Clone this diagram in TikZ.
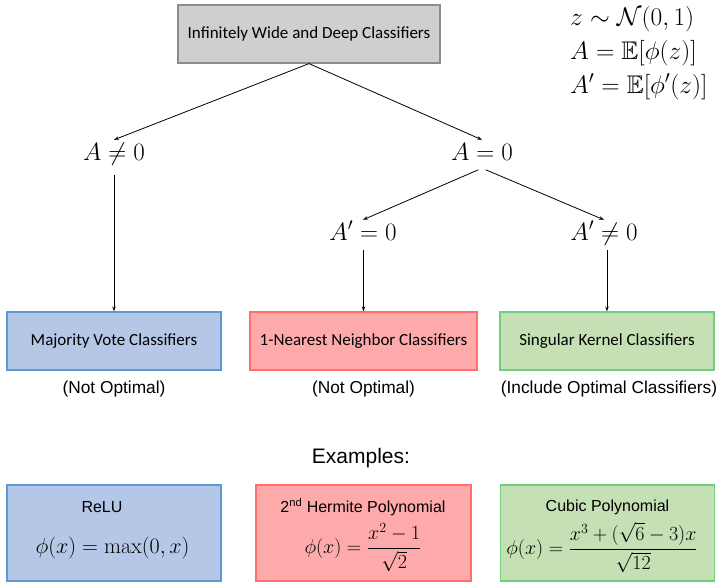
\RequirePackage{fix-cm}
\documentclass[tikz,border=0pt]{standalone}
\usepackage{amsmath,amssymb}
\usepackage{fontspec}
\newfontfamily\calibri{Carlito}
\newfontfamily\arial{Liberation Sans}
\usetikzlibrary{arrows.meta}
\definecolor{topfill}{HTML}{D0CECE}
\definecolor{topdraw}{HTML}{8C8C8C}
\definecolor{bfill}{HTML}{B4C7E7}
\definecolor{bdraw}{HTML}{5B9BD5}
\definecolor{rfill}{HTML}{FFAAAA}
\definecolor{rdraw}{HTML}{FF6F6F}
\definecolor{gfill}{HTML}{C5E0B4}
\definecolor{gdraw}{HTML}{6FCF7F}
\begin{document}
\begin{tikzpicture}[x=1pt,y=-1pt,
  cbox/.style={draw, line width=1.2pt, minimum height=58pt, inner sep=0pt,
    font=\calibri\fontsize{17}{20}\selectfont},
  exbox/.style={draw, line width=1.2pt, minimum height=96pt, minimum width=214pt, inner sep=0pt},
  mlab/.style={font=\fontsize{25}{30}\selectfont, text height=18pt, text depth=6pt, inner sep=2pt, anchor=base},
  rlab/.style={font=\fontsize{25.5}{30}\selectfont, anchor=base west, inner sep=0pt},
  arr/.style={-{Stealth[length=5pt,width=3.5pt]}, line width=0.8pt},
  note/.style={font=\arial\fontsize{17.3}{20}\selectfont, anchor=base},
  extitle/.style={font=\arial\fontsize{16}{19}\selectfont, anchor=base, inner sep=0pt},
  exmath/.style={font=\fontsize{20}{24}\selectfont, anchor=base, inner sep=0pt}
]
\useasboundingbox (0,0) rectangle (721,587);

\node[cbox, fill=topfill, draw=topdraw, minimum width=262pt] (top) at (309,34) {Infinitely Wide and Deep Classifiers};

\node[rlab] (f1) at (570,25) {$z\sim\mathcal{N}(0,1)$};
\node[rlab] (f2) at (570,59) {$A=\mathbb{E}[\phi(z)]$};
\node[rlab] (f3) at (570,93) {$A'=\mathbb{E}[\phi'(z)]$};

\node[mlab] (nA) at (114,160) {$A\neq0$};
\node[mlab] (zA) at (482,160) {$A=0$};
\node[mlab] (zAp) at (363,240) {$A'=0$};
\node[mlab] (nAp) at (604,240) {$A'\neq0$};

\node[cbox, fill=bfill, draw=bdraw, minimum width=214pt] (b1) at (114,341) {Majority Vote Classifiers};
\node[cbox, fill=rfill, draw=rdraw, minimum width=227pt] (b2) at (363.5,341) {1-Nearest Neighbor Classifiers};
\node[cbox, fill=gfill, draw=gdraw, minimum width=214pt] (b3) at (607,341) {Singular Kernel Classifiers};

\node[note] (l1) at (114,393) {(Not Optimal)};
\node[note] (l2) at (363.5,393) {(Not Optimal)};
\node[note] (l3) at (609,393) {(Include Optimal Classifiers)};

\draw[arr] (top.south) -- (nA.north);
\draw[arr] (top.south) -- (zA.north);
\draw[arr, shorten <=4pt] (zA.south) -- (zAp.north);
\draw[arr, shorten <=4pt] (zA.south) -- (nAp.north);
\draw[arr, shorten <=7pt] (nA.south -| b1.north) -- (b1.north);
\draw[arr, shorten <=2pt] (zAp.south -| b2.north) -- (b2.north);
\draw[arr, shorten <=2pt] (nAp.south -| b3.north) -- (b3.north);

\node[font=\arial\fontsize{21}{25}\selectfont] (ex) at (361,458) {Examples:};

\node[exbox, fill=bfill, draw=bdraw] (e1) at (114,533) {};
\node[exbox, fill=rfill, draw=rdraw, minimum width=215pt] (e2) at (363.5,533) {};
\node[exbox, fill=gfill, draw=gdraw] (e3) at (607.5,533) {};

\node[extitle] (e1t) at (102,512) {ReLU};
\node[extitle] (e2t) at (363,512) {2\textsuperscript{nd} Hermite Polynomial};
\node[extitle] (e3t) at (607.5,511) {Cubic Polynomial};

\node[exmath, font=\fontsize{22}{26}\selectfont] (e1m) at (112.5,553) {$\phi(x)=\max(0,x)$};
\node[exmath] (e2m) at (363,553) {$\displaystyle\phi(x)=\frac{x^2-1}{\sqrt{2}}$};
\node[exmath] (e3m) at (602,554) {$\displaystyle\phi(x)=\frac{x^3+(\sqrt{6}-3)x}{\sqrt{12}}$};
\end{tikzpicture}
\end{document}
